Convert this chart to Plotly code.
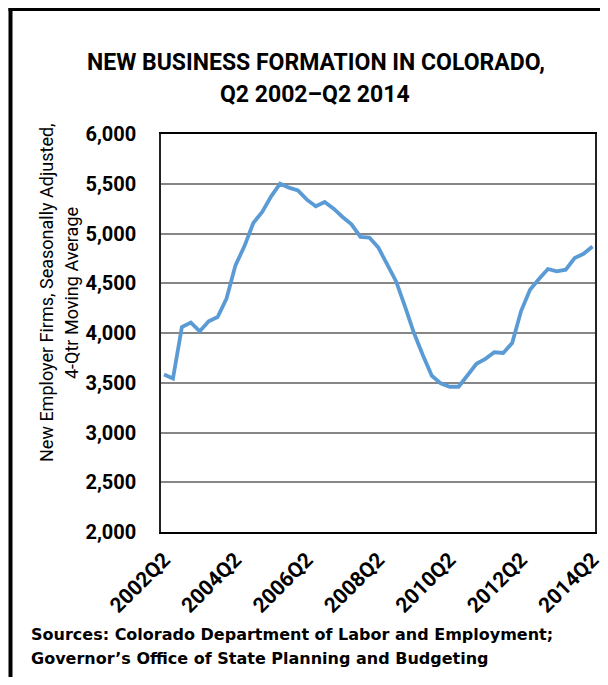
import plotly.graph_objects as go

# ---- data ----
quarters = [f"{y}Q{q}" for y in range(2002, 2015) for q in range(1, 5)][1:50]
firms = [3582, 3542, 4060, 4104, 4017, 4118, 4161, 4346, 4680, 4871,
         5106, 5216, 5374, 5501, 5461, 5432, 5340, 5274, 5317, 5250,
         5166, 5092, 4966, 4960, 4860, 4682, 4518, 4264, 4000, 3777,
         3570, 3494, 3460, 3460, 3580, 3690, 3740, 3806, 3799, 3900,
         4221, 4435, 4542, 4643, 4619, 4636, 4753, 4796, 4869]
x_ticklabels = ["2002Q2", "2004Q2", "2006Q2", "2008Q2", "2010Q2", "2012Q2", "2014Q2"]
y_ticks = [2000, 2500, 3000, 3500, 4000, 4500, 5000, 5500, 6000]
title_lines = ["NEW BUSINESS FORMATION IN COLORADO,", "Q2 2002\u2013Q2 2014"]
y_title_lines = ["New Employer Firms, Seasonally Adjusted,", "4-Qtr Moving Average"]
source_lines = ["Sources: Colorado Department of Labor and Employment;",
                "Governor\u2019s Office of State Planning and Budgeting"]

COND = "Roboto, Liberation Sans, sans-serif"
SRC = "DejaVu Sans, sans-serif"

# page body has an 8px margin: figure pixel = reference pixel - 8
OFF = 8
FW, FH = 608 - OFF, 685 - 2 * OFF
L, R, T, B = 161 - OFF, 595 - OFF, 134 - OFF, 532 - OFF
W, H = R - L, B - T


def px(x):
    return (x - OFF - L) / W


def py(y):
    return (B - (y - OFF)) / H


fig = go.Figure()
fig.add_trace(go.Scatter(
    x=quarters, y=firms, mode="lines",
    line=dict(color="#5B9BD5", width=3.8),
    hoverinfo="x+y", showlegend=False,
))

annotations = [
    dict(text=f"<b>{title_lines[0]}</b>", xref="paper", yref="paper",
         x=px(316), y=py(62), xanchor="center", yanchor="middle", showarrow=False,
         font=dict(family=COND, size=23, color="black")),
    dict(text=f"<b>{title_lines[1]}</b>", xref="paper", yref="paper",
         x=px(315), y=py(95), xanchor="center", yanchor="middle", showarrow=False,
         font=dict(family=COND, size=23, color="black")),
]
for i, s in enumerate(y_title_lines):
    annotations.append(dict(
        text=s, textangle=-90, xref="paper", yref="paper",
        x=px(46 + 25 * i), y=py(293), xanchor="center", yanchor="middle", showarrow=False,
        font=dict(family=COND, size=18, color="black")))
for i, s in enumerate(source_lines):
    annotations.append(dict(
        text=f"<b>{s}</b>", xref="paper", yref="paper",
        x=px(29), y=py(634 + 24 * i), xanchor="left", yanchor="middle", showarrow=False,
        font=dict(family=SRC, size=16, color="black")))

fig.update_layout(
    width=FW, height=FH,
    margin=dict(l=L, r=FW - R, t=T, b=FH - B),
    paper_bgcolor="white", plot_bgcolor="white",
    xaxis=dict(
        type="category", automargin=False,
        range=[-0.34, 48.28],
        tickmode="array", tickvals=x_ticklabels, ticktext=x_ticklabels,
        tickangle=-45,
        tickfont=dict(family=COND, size=21, color="black", weight="bold"),
        showgrid=False, zeroline=False,
        showline=True, linecolor="black", linewidth=2, mirror=True,
        ticks="outside", ticklen=5, tickcolor="rgba(0,0,0,0)",
    ),
    yaxis=dict(
        range=[2000, 6000], automargin=False,
        tickmode="array", tickvals=y_ticks,
        tickformat=",",
        tickfont=dict(family=COND, size=20, color="black", weight="bold"),
        showgrid=True, gridcolor="#868686", gridwidth=1.5,
        zeroline=False,
        showline=True, linecolor="#222", linewidth=1.5, mirror=True,
        ticks="outside", ticklen=19, tickcolor="rgba(0,0,0,0)",
    ),
    annotations=annotations,
    shapes=[
        dict(type="line", xref="paper", yref="paper",
             x0=px(10.5), x1=px(10.5), y0=py(8), y1=py(720),
             line=dict(color="black", width=4)),
        dict(type="line", xref="paper", yref="paper",
             x0=px(8.5), x1=px(640), y0=py(9.5), y1=py(9.5),
             line=dict(color="black", width=3)),
    ],
)

fig.write_html("out.html")
